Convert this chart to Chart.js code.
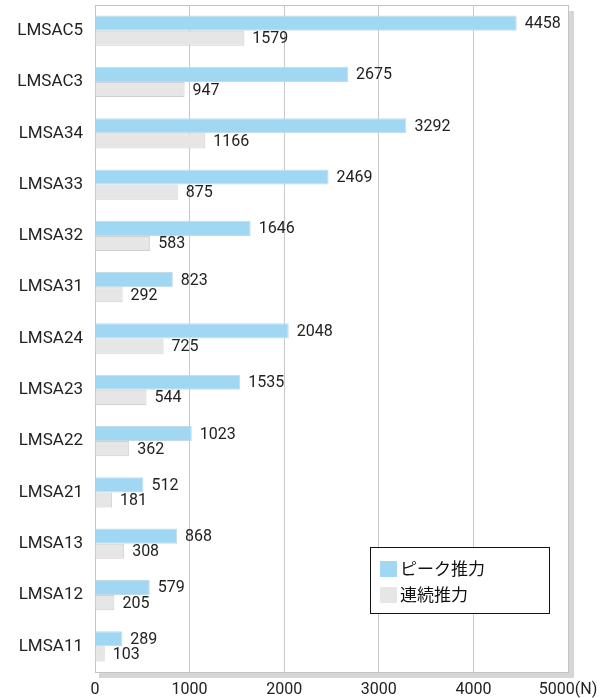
<!DOCTYPE html>
<html><head><meta charset="utf-8">
<script src="https://cdn.jsdelivr.net/npm/chart.js@4/dist/chart.umd.min.js"></script>
<style>html,body{margin:0;padding:0;background:#fff;}canvas{display:block;}</style>
</head><body>
<canvas id="c" width="602" height="698"></canvas>
<script>
const categories = ['LMSAC5','LMSAC3','LMSA34','LMSA33','LMSA32','LMSA31','LMSA24','LMSA23','LMSA22','LMSA21','LMSA13','LMSA12','LMSA11'];
const peakThrust = [4458,2675,3292,2469,1646,823,2048,1535,1023,512,868,579,289];
const contThrust = [1579,947,1166,875,583,292,725,544,362,181,308,205,103];
const seriesNames = ['ピーク推力','連続推力'];
const xTicks = [0,1000,2000,3000,4000,5000];
const xUnit = '(N)';

const NUM_FONT = '16px Roboto';
const framePlugin = {
  id:'frame',
  beforeDatasetsDraw(chart){
    const {ctx, chartArea:a} = chart;
    ctx.save();
    ctx.fillStyle = '#d6d6d6';
    ctx.fillRect(a.right+1, a.top+6, 5, a.bottom - a.top);
    ctx.fillRect(a.left+4, a.bottom+1, a.right - a.left + 2, 5);
    ctx.strokeStyle = '#c4c4c4';
    ctx.lineWidth = 1;
    ctx.strokeRect(a.left+0.5, a.top+0.5, a.right-a.left, a.bottom-a.top);
    ctx.restore();
  },
  afterDatasetsDraw(chart){
    const {ctx} = chart;
    ctx.save();
    ctx.font = NUM_FONT;
    ctx.fillStyle = '#222';
    ctx.textBaseline = 'middle';
    ctx.textAlign = 'left';
    chart.data.datasets.forEach((ds,i)=>{
      const meta = chart.getDatasetMeta(i);
      meta.data.forEach((el,j)=>{
        ctx.fillText(String(ds.data[j]), el.x + 8, el.y + 1);
      });
    });
    // legend
    const lx = 370, ly = 547, lw = 179, lh = 66;
    ctx.fillStyle = '#fff';
    ctx.fillRect(lx, ly, lw, lh);
    ctx.strokeStyle = '#111';
    ctx.strokeRect(lx+0.5, ly+0.5, lw, lh);
    ctx.font = '17px "Noto Sans CJK JP"';
    chart.data.datasets.forEach((ds,i)=>{
      const y = ly + 14 + i*26;
      ctx.fillStyle = ds.backgroundColor;
      ctx.fillRect(lx+10, y, 17, 16);
      ctx.fillStyle = '#111';
      ctx.fillText(ds.label, lx+30, y+8);
    });
    ctx.restore();
  }
};

new Chart(document.getElementById('c'), {
  type:'bar',
  data:{
    labels: categories,
    datasets:[
      {label: seriesNames[0], data: peakThrust, backgroundColor:'#a0d8f4', borderColor:'#c3dbe6', borderWidth:1},
      {label: seriesNames[1], data: contThrust, backgroundColor:'#e6e6e6', borderColor:'#d0d0d0', borderWidth:1}
    ]
  },
  options:{
    indexAxis:'y',
    responsive:false,
    animation:false,
    devicePixelRatio:1,
    layout:{padding:{top:5,right:34,left:0,bottom:0}, autoPadding:false},
    datasets:{bar:{categoryPercentage:0.59, barPercentage:1}},
    plugins:{legend:{display:false}, tooltip:{enabled:false}},
    scales:{
      x:{
        min:0,max:5000,
        afterBuildTicks(s){ s.ticks = xTicks.map(v=>({value:v})); },
        afterFit(s){ s.height = 26; s.paddingLeft = 0; s.paddingRight = 0; },
        grid:{color:'#c8c8c8', drawTicks:false},
        border:{display:false},
        ticks:{padding:8, color:'#222', font:{family:'Roboto', size:16}, maxRotation:0,
          callback:(v)=> v===5000 ? v+xUnit : String(v)}
      },
      y:{
        grid:{display:false, drawTicks:false},
        border:{display:false},
        afterFit(s){ s.width = 95; s.paddingTop = 0; s.paddingBottom = 0; },
        ticks:{padding:12, color:'#222', font:{family:'Roboto', size:17}}
      }
    }
  },
  plugins:[framePlugin]
});
</script>
</body></html>
